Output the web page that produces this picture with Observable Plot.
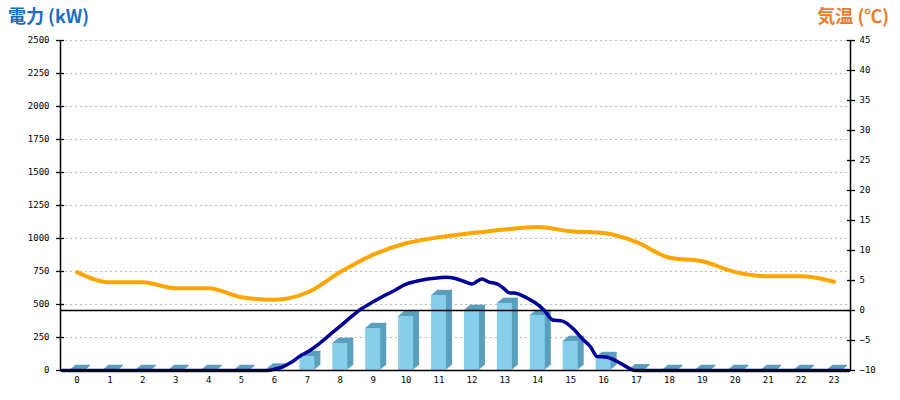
<!DOCTYPE html>
<html><head><meta charset="utf-8">
<script src="https://cdn.jsdelivr.net/npm/d3@7"></script>
<script src="https://cdn.jsdelivr.net/npm/@observablehq/plot@0.6"></script>
<style>
body{margin:0;background:#fff}
#wrap{position:relative;width:900px;height:400px}
.t{position:absolute;top:3px;font-family:"Noto Sans CJK JP";font-weight:bold;font-size:18px;line-height:24px;z-index:2}
</style></head><body>
<div id="wrap"><span class="t" style="left:8px;color:#1a6ebd">電力 (kW)</span><span class="t" style="right:11px;color:#ef7a28">気温 (℃)</span></div>
<script>
const hours = [0,1,2,3,4,5,6,7,8,9,10,11,12,13,14,15,16,17,18,19,20,21,22,23];
const powerBars = [0,0,0,0,0,0,10,106,205,318,409,568,455,508,417,220,98,5,0,0,0,0,0,0];
const tempC = [6.4,4.7,4.7,3.7,3.7,2.2,1.8,3.0,6.4,9.3,11.2,12.2,12.9,13.5,13.9,13.2,12.9,11.4,8.8,8.2,6.4,5.7,5.7,4.8];
const powerTime = [-0.45,5.8,6.0,6.25,6.5,6.8,7.0,7.4,7.7,8.0,8.3,8.6,9.0,9.3,9.6,10.0,10.3,10.6,11.0,11.2,11.5,11.75,12.0,12.3,12.5,12.8,13.0,13.1,13.4,13.7,13.9,14.2,14.45,14.75,15.1,15.35,15.6,15.8,16.1,16.45,16.75,16.95,23.45];
const powerKW = [0,0,10,28,60,113,140,212,275,336,400,460,520,562,600,655,675,692,702,707,697,676,655,694,672,652,615,592,581,545,517,455,383,374,310,240,180,106,101,63,20,0,0];
const leftTicks = [0,250,500,750,1000,1250,1500,1750,2000,2250,2500];
const rightTicks = [-10,-5,0,5,10,15,20,25,30,35,40,45];

const kMax = 2500, tMin = -10, tMax = 45;
const t2k = t => (t - tMin) * kMax / (tMax - tMin);
const k2t = k => Math.round(k * (tMax - tMin) / kMax + tMin);

const bars = hours.map((h, i) => ({h, v: powerBars[i]}));
const temps = hours.map((h, i) => ({h, t: tempC[i]}));
const power = powerTime.map((h, i) => ({h, v: powerKW[i]}));

const front = "#87ceeb", dark = "#5a9fbd";
const half = 0.228;
const x1 = d => d.h - half, x2 = d => d.h + half;

const marks = [];
marks.push(Plot.ruleY(leftTicks.filter(v => v > 0), {stroke: "#bbb", strokeDasharray: "2,3", strokeWidth: 1}));
for (let k = 1; k <= 6; k++) {
  marks.push(Plot.rect(bars, {x1, x2, y1: 0, y2: "v", fill: dark, dx: k, dy: -k * 5 / 6}));
}
for (let k = 0; k <= 6; k++) {
  marks.push(Plot.ruleY(bars, {y: "v", x1, x2, stroke: dark, strokeWidth: 1.5, dx: k, dy: -k * 5 / 6}));
}
marks.push(Plot.rect(bars, {x1, x2, y1: 0, y2: "v", fill: front}));
marks.push(Plot.ruleY([t2k(0)], {stroke: "#000", strokeWidth: 1.3}));
marks.push(Plot.line(temps, {x: "h", y: d => t2k(d.t), stroke: "#ffa500", strokeWidth: 4, curve: "monotone-x"}));
marks.push(Plot.line(power, {x: "h", y: "v", stroke: "#000099", strokeWidth: 3.5, curve: "monotone-x"}));
marks.push(Plot.ruleX([-0.5, 23.5], {y1: 0, y2: kMax, stroke: "#000", strokeWidth: 1.5}));
marks.push(Plot.ruleY([0], {stroke: "#000", strokeWidth: 1.5}));
marks.push(Plot.axisY(leftTicks, {anchor: "left", tickSize: 8, dx: 4, tickPadding: 7, tickFormat: d => String(d), label: null, strokeWidth: 1.3}));
marks.push(Plot.axisY(rightTicks.map(t2k), {anchor: "right", tickSize: 8, dx: -4, tickPadding: 5, tickFormat: k => String(k2t(k)).replace("-", "\u2212"), label: null, strokeWidth: 1.3}));
marks.push(Plot.axisX(hours, {anchor: "bottom", tickSize: 0, tickPadding: 6, tickFormat: d => String(d), label: null}));

const chart = Plot.plot({
  width: 900,
  height: 400,
  marginTop: 40,
  marginBottom: 30,
  marginLeft: 60,
  marginRight: 50,
  x: {type: "linear", domain: [-0.5, 23.5]},
  y: {domain: [0, kMax]},
  style: {fontFamily: "DejaVu Sans Mono", fontSize: "9px", color: "#000", background: "#fff"},
  marks
});
document.getElementById("wrap").appendChild(chart);
chart.style.position = "absolute";
chart.style.left = "0";
chart.style.top = "0";
</script>
</body></html>
